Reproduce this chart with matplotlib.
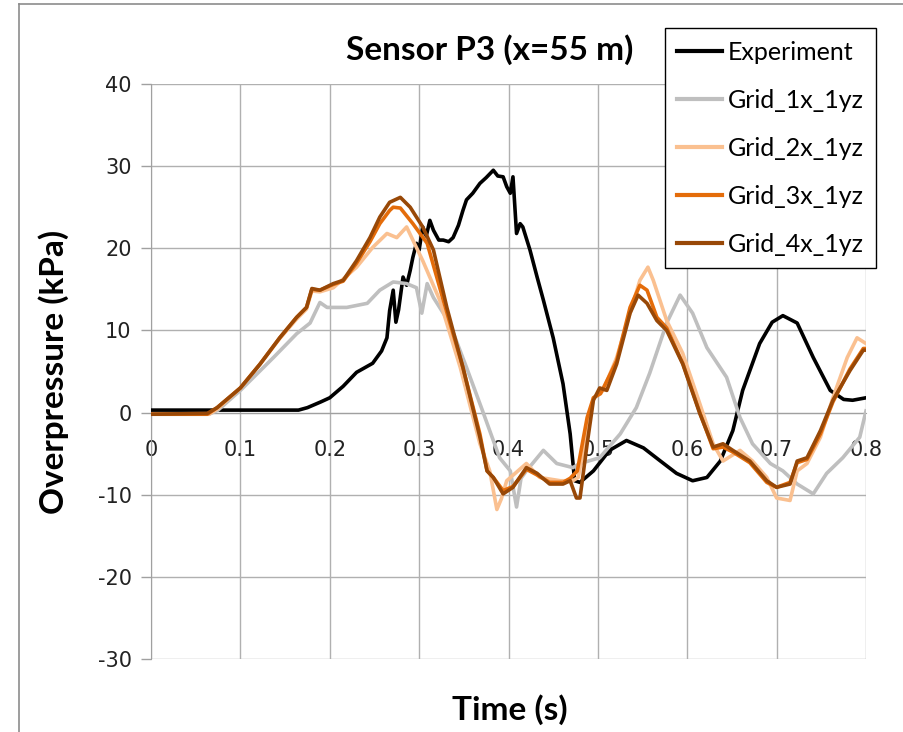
"""
Sensor P3 overpressure history: experiment vs. four grid resolutions
"""

import matplotlib.pyplot as plt
from matplotlib.lines import Line2D

# Experiment
exp_t = [0, 0.1, 0.165, 0.175, 0.19, 0.2, 0.215, 0.23, 0.248, 0.258, 0.264, 0.267,
         0.271, 0.274, 0.277, 0.282, 0.286, 0.290, 0.293, 0.297, 0.300, 0.304, 0.308,
         0.312, 0.316, 0.322, 0.327, 0.333, 0.338, 0.344, 0.349, 0.353, 0.360, 0.368,
         0.375, 0.383, 0.388, 0.394, 0.398, 0.402, 0.405, 0.409, 0.413, 0.416, 0.424,
         0.432, 0.439, 0.450, 0.461, 0.469, 0.474, 0.480, 0.495, 0.513, 0.532, 0.551,
         0.570, 0.588, 0.606, 0.622, 0.637, 0.651, 0.662, 0.681, 0.695, 0.707, 0.723,
         0.741, 0.760, 0.775, 0.785, 0.800]
exp_p = [0.3, 0.3, 0.3, 0.6, 1.3, 1.8, 3.2, 4.9, 6.0, 7.5, 9.1, 12.4,
         14.9, 11.0, 12.5, 16.5, 15.5, 17.3, 18.9, 20.6, 19.8, 22.6, 21.5,
         23.4, 22.2, 21.0, 21.0, 20.8, 21.3, 22.8, 24.6, 25.9, 26.7, 27.9,
         28.6, 29.5, 28.8, 28.7, 27.5, 26.7, 28.7, 21.8, 23.0, 22.6, 19.8,
         16.5, 13.7, 9.1, 3.5, -2.6, -8.3, -8.5, -7.1, -4.6, -3.4, -4.3,
         -5.9, -7.4, -8.3, -7.9, -5.9, -2.2, 2.7, 8.4, 11.0, 11.8, 10.9,
         6.7, 2.7, 1.6, 1.5, 1.8]

# Grid_1x_1yz
g1_t = [0, 0.065, 0.075, 0.1, 0.137, 0.163, 0.178, 0.189, 0.197, 0.219, 0.242, 0.256,
        0.271, 0.286, 0.297, 0.303, 0.309, 0.316, 0.323, 0.334, 0.353, 0.371, 0.390,
        0.402, 0.409, 0.414, 0.420, 0.439, 0.454, 0.472, 0.480, 0.502, 0.525, 0.543,
        0.558, 0.577, 0.592, 0.606, 0.622, 0.644, 0.659, 0.673, 0.693, 0.707, 0.723,
        0.741, 0.756, 0.774, 0.793, 0.800]
g1_p = [-0.2, -0.2, 0.3, 2.7, 6.7, 9.6, 10.9, 13.4, 12.8, 12.8, 13.3, 14.9,
        15.9, 15.7, 15.2, 12.1, 15.7, 14.0, 12.8, 10.9, 5.5, 0.2, -5.5,
        -7.1, -11.5, -8.0, -7.1, -4.6, -6.2, -6.7, -6.2, -5.5, -2.6, 0.6,
        4.8, 10.9, 14.3, 12.1, 7.9, 4.3, -0.6, -3.8, -6.2, -7.1, -8.7,
        -9.9, -7.4, -5.5, -3.0, 0.2]

# Grid_2x_1yz
g2_t = [0, 0.065, 0.075, 0.1, 0.122, 0.144, 0.163, 0.174, 0.180, 0.189, 0.204, 0.230,
        0.248, 0.264, 0.275, 0.286, 0.293, 0.304, 0.323, 0.346, 0.368, 0.379, 0.387,
        0.392, 0.398, 0.420, 0.435, 0.458, 0.472, 0.478, 0.488, 0.495, 0.506, 0.521,
        0.536, 0.547, 0.556, 0.562, 0.577, 0.595, 0.614, 0.629, 0.640, 0.659, 0.673,
        0.689, 0.700, 0.715, 0.723, 0.734, 0.749, 0.763, 0.779, 0.790, 0.800]
g2_p = [-0.2, -0.2, 0.5, 3.0, 5.9, 9.0, 11.4, 12.6, 14.8, 14.7, 15.2, 17.7,
        20.1, 21.8, 21.3, 22.6, 21.0, 18.5, 13.7, 5.5, -3.8, -7.1, -11.8,
        -10.5, -8.3, -6.2, -7.9, -8.3, -8.3, -7.9, -2.2, 1.8, 2.7, 6.7,
        12.1, 16.1, 17.7, 16.1, 11.2, 7.2, 1.1, -3.8, -5.9, -4.6, -5.9,
        -7.9, -10.4, -10.7, -7.1, -6.2, -3.0, 1.8, 6.7, 9.1, 8.4]

# Grid_3x_1yz
g3_t = [0, 0.063, 0.074, 0.1, 0.122, 0.144, 0.163, 0.174, 0.180, 0.189, 0.204, 0.215,
        0.230, 0.245, 0.256, 0.267, 0.271, 0.279, 0.293, 0.309, 0.327, 0.349, 0.368,
        0.376, 0.383, 0.394, 0.405, 0.420, 0.432, 0.446, 0.461, 0.469, 0.477, 0.488,
        0.495, 0.503, 0.521, 0.536, 0.547, 0.555, 0.566, 0.577, 0.595, 0.614, 0.629,
        0.640, 0.651, 0.670, 0.689, 0.700, 0.715, 0.723, 0.734, 0.749, 0.763, 0.782,
        0.797, 0.800]
g3_p = [-0.2, -0.2, 0.6, 3.0, 5.9, 9.1, 11.6, 12.8, 15.0, 14.9, 15.6, 16.0,
        18.2, 20.8, 23.0, 24.6, 25.0, 24.9, 23.0, 20.6, 13.7, 5.5, -2.6,
        -7.1, -7.9, -9.5, -9.0, -6.9, -7.6, -8.5, -8.5, -8.0, -7.1, -0.6,
        1.8, 2.3, 6.3, 12.8, 15.5, 14.9, 11.6, 10.3, 6.0, 0.0, -4.4,
        -4.2, -4.8, -6.1, -8.5, -9.1, -8.5, -6.1, -5.7, -2.6, 1.3, 5.3,
        7.8, 7.8]

# Grid_4x_1yz
g4_t = [0, 0.063, 0.074, 0.1, 0.122, 0.144, 0.163, 0.174, 0.180, 0.189, 0.204, 0.215,
        0.230, 0.245, 0.256, 0.267, 0.279, 0.290, 0.304, 0.316, 0.331, 0.349, 0.368,
        0.376, 0.383, 0.394, 0.405, 0.420, 0.432, 0.446, 0.461, 0.469, 0.476, 0.480,
        0.488, 0.495, 0.502, 0.510, 0.521, 0.536, 0.545, 0.555, 0.566, 0.577, 0.595,
        0.614, 0.629, 0.640, 0.651, 0.670, 0.689, 0.700, 0.715, 0.723, 0.734, 0.749,
        0.763, 0.782, 0.797, 0.800]
g4_p = [-0.2, -0.1, 0.6, 3.0, 5.9, 9.1, 11.6, 12.8, 15.1, 14.9, 15.7, 16.1,
        18.5, 21.3, 23.8, 25.6, 26.2, 25.0, 22.6, 19.8, 12.8, 5.5, -3.0,
        -7.1, -7.9, -9.9, -9.1, -6.7, -7.4, -8.7, -8.7, -8.3, -10.4, -10.4,
        -3.8, 1.5, 3.0, 2.7, 5.9, 12.1, 14.3, 13.3, 11.2, 10.0, 5.9,
        -0.1, -4.2, -3.8, -4.6, -5.9, -8.3, -9.1, -8.7, -5.9, -5.5, -2.2,
        1.5, 5.1, 7.6, 7.6]

series = [
    ('Experiment', exp_t, exp_p, '#000000'),
    ('Grid_1x_1yz', g1_t, g1_p, '#BFBFBF'),
    ('Grid_2x_1yz', g2_t, g2_p, '#FAC090'),
    ('Grid_3x_1yz', g3_t, g3_p, '#E46C0A'),
    ('Grid_4x_1yz', g4_t, g4_p, '#984807'),
]

x_ticks = [0, 0.1, 0.2, 0.3, 0.4, 0.5, 0.6, 0.7, 0.8]
x_tick_labels = ['0', '0.1', '0.2', '0.3', '0.4', '0.5', '0.6', '0.7', '0.8']
y_ticks = [-30, -20, -10, 0, 10, 20, 30, 40]
y_tick_labels = ['-30', '-20', '-10', '0', '10', '20', '30', '40']

W, H = 904, 732
fig = plt.figure(figsize=(W / 100, H / 100), dpi=100)
ax = fig.add_axes([151 / W, 1 - 659 / H, (866 - 151) / W, (659 - 84) / H])

handles = []
for i, (name, t, p, col) in enumerate(series):
    ax.plot(t, p, color=col, lw=2.6, zorder=3 + i, solid_joinstyle='round')
    handles.append(Line2D([], [], color=col, lw=3))

ax.set_xlim(0, 0.8)
ax.set_ylim(-30, 40)
ax.set_xticks(x_ticks)
ax.set_xticklabels(x_tick_labels)
ax.set_yticks(y_ticks)
ax.set_yticklabels(y_tick_labels)
ax.grid(True, color='#B0B0B0', lw=1.0, zorder=0)

for s in ['top', 'right']:
    ax.spines[s].set_visible(False)
ax.spines['bottom'].set_position(('data', 0))
ax.spines['bottom'].set_color('#A0A0A0')
ax.spines['left'].set_color('#A0A0A0')
ax.tick_params(axis='x', length=0, pad=20, labelsize=15, colors='#222222')
ax.tick_params(axis='y', length=7, color='#A0A0A0', width=1, pad=7,
               labelsize=15, labelcolor='#222222')

fig.text(490 / W, 1 - 50 / H, 'Sensor P3 (x=55 m)', fontsize=24, fontweight='bold',
         family='Lato', ha='center', va='center')
ax.set_ylabel('Overpressure (kPa)', fontsize=24, fontweight='bold', family='Lato')
ax.yaxis.set_label_coords((69 - 151) / 715, 0.5)
fig.text(510 / W, 1 - 710 / H, 'Time (s)', fontsize=24, fontweight='bold',
         family='Lato', ha='center', va='center')

leg = fig.legend(handles, [s[0] for s in series], loc='upper left',
                 bbox_to_anchor=(665 / W, 1 - 28 / H), bbox_transform=fig.transFigure,
                 frameon=True, fancybox=False, edgecolor='black', framealpha=1,
                 prop={'family': 'Lato', 'size': 18}, handlelength=1.8,
                 handletextpad=0.2, labelspacing=1.0, borderpad=0.5,
                 borderaxespad=0)
leg.get_frame().set_linewidth(1.0)

# outer chart frame
fig.add_artist(Line2D([19 / W, 19 / W], [0, 1 - 4 / H], color='#8C8C8C', lw=1.2,
                      transform=fig.transFigure))
fig.add_artist(Line2D([19 / W, 1], [1 - 4 / H, 1 - 4 / H], color='#8C8C8C', lw=1.2,
                      transform=fig.transFigure))

fig.savefig('out.png', dpi=100)
